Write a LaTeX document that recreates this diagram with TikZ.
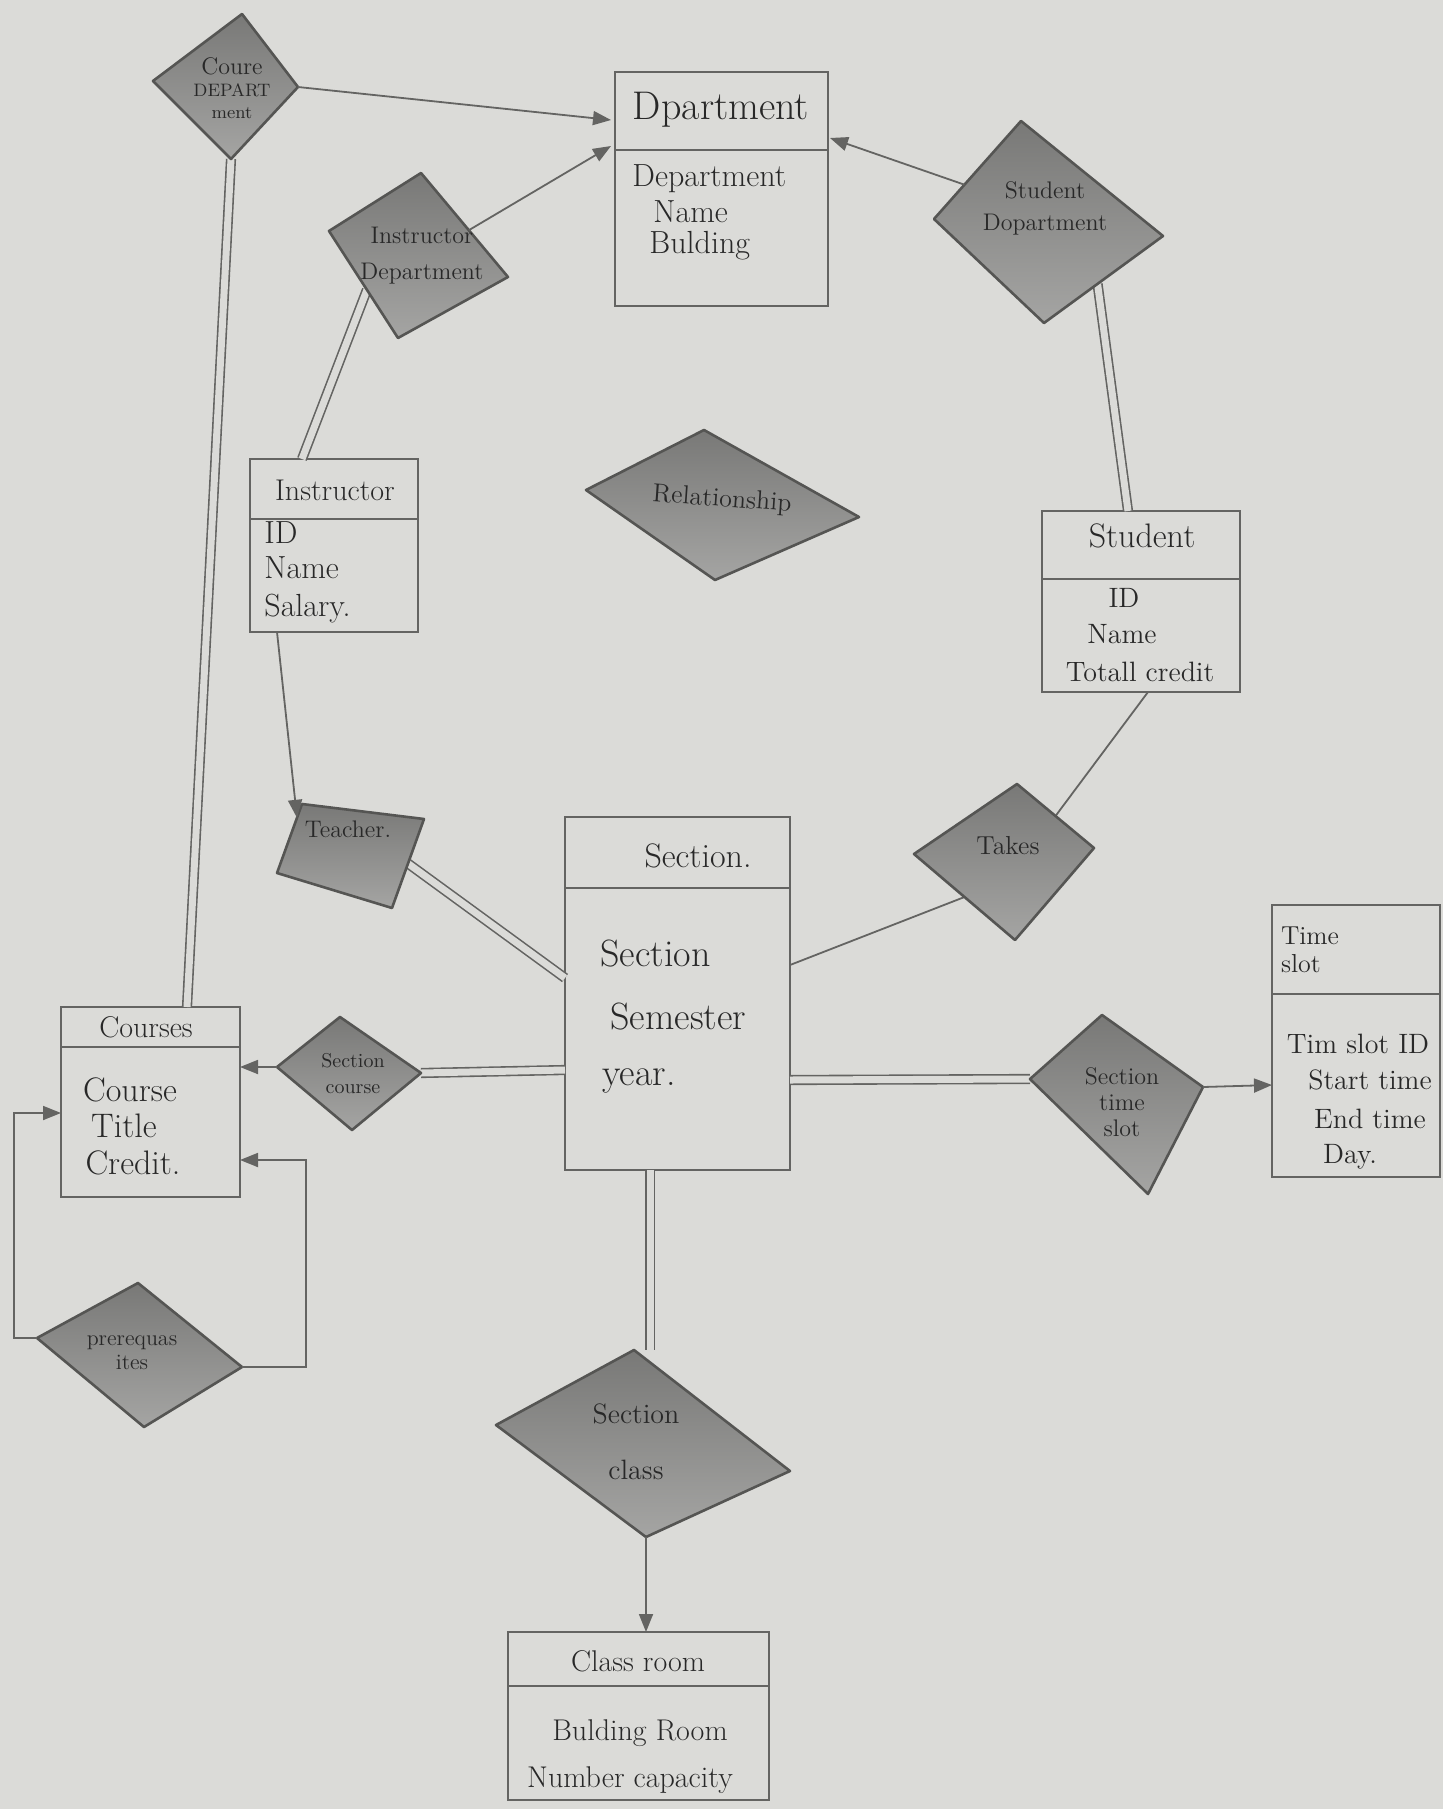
\documentclass[tikz,border=0pt]{standalone}
\usetikzlibrary{arrows.meta,calc}

\definecolor{paper}{RGB}{219,219,216}
\definecolor{pencil}{RGB}{100,100,98}
\definecolor{shade}{RGB}{142,142,140}
\definecolor{shadeedge}{RGB}{85,85,83}
\definecolor{ink}{RGB}{40,40,40}

\newcommand\fs[1]{\fontsize{#1}{#1}\selectfont}

\tikzset{
  entity/.style={draw=pencil, line width=1pt, inner sep=0pt},
  divider/.style={draw=pencil, line width=1pt},
  rel/.style={draw=shadeedge, line width=1.3pt, line join=round,
              top color=shade!85!black, bottom color=shade!80!white},
  link/.style={draw=pencil, line width=0.9pt},
  dlink/.style={draw=pencil, line width=0.8pt, double=paper, double distance=3.5pt},
  arr/.style={link, -{Triangle[length=9pt,width=7pt]}},
  lbl/.style={text=ink, inner sep=0pt, align=center},
  attr/.style={text=ink, inner sep=0pt, anchor=west},
}

\begin{document}
\begin{tikzpicture}[x=0.5pt,y=-0.5pt]
\fill[paper] (0,0) rectangle (1443,1809);

% ---------- entity boxes ----------
\node[entity, minimum width=106.5pt, minimum height=117pt] (Dep) at (721.5,189) {};
\node[entity, minimum width=84pt,   minimum height=86.5pt] (Ins) at (334,545.5) {};
\node[entity, minimum width=99pt,   minimum height=90.5pt] (Stu) at (1141,601.5) {};
\node[entity, minimum width=112.5pt,minimum height=176.5pt] (Sec) at (677.5,993.5) {};
\node[entity, minimum width=84pt,   minimum height=136pt]  (TS)  at (1356,1041) {};
\node[entity, minimum width=89.5pt, minimum height=95pt]   (Co)  at (150.5,1102) {};
\node[entity, minimum width=130.5pt,minimum height=84pt]   (CR)  at (638.5,1716) {};

\draw[divider] (Dep.west |- 0,150)  -- (Dep.east |- 0,150);
\draw[divider] (Ins.west |- 0,519)  -- (Ins.east |- 0,519);
\draw[divider] (Stu.west |- 0,579)  -- (Stu.east |- 0,579);
\draw[divider] (Sec.west |- 0,888)  -- (Sec.east |- 0,888);
\draw[divider] (TS.west  |- 0,994)  -- (TS.east  |- 0,994);
\draw[divider] (Co.west  |- 0,1047) -- (Co.east  |- 0,1047);
\draw[divider] (CR.west  |- 0,1686) -- (CR.east  |- 0,1686);

% box texts
\node[lbl, font=\fs{20}] (depT) at (721,110) {Dpartment};
\node[attr, font=\fs{16}] (depA1) at (632,179) {Department};
\node[attr, font=\fs{16}] (depA2) at (653,212) {Name};
\node[attr, font=\fs{16}] (depA3) at (649,246) {Bulding};

\node[lbl, font=\fs{15}] (insT) at (335,490) {Instructor};
\node[attr, font=\fs{16}] (insA1) at (264,533) {ID};
\node[attr, font=\fs{16}] (insA2) at (264,568) {Name};
\node[attr, font=\fs{16}] (insA3) at (264,609) {Salary.};

\node[lbl, font=\fs{17}] (stuT) at (1142,536) {Student};
\node[lbl, font=\fs{14}] (stuA1) at (1124,598) {ID};
\node[lbl, font=\fs{14}] (stuA2) at (1122,634) {Name};
\node[lbl, font=\fs{14}] (stuA3) at (1140,672) {Totall credit};

\node[lbl, font=\fs{17}] (secT) at (698,856) {Section.};
\node[attr, font=\fs{19}] (secA1) at (600,954) {Section};
\node[attr, font=\fs{19}] (secA2) at (610,1017) {Semester};
\node[attr, font=\fs{19}] (secA3) at (602,1081) {year.};

\node[lbl, font=\fs{13}, align=left] (tsT) at (1310,950) {Time\\[1pt]slot};
\node[lbl, font=\fs{14}] (tsA1) at (1358,1044) {Tim slot ID};
\node[lbl, font=\fs{14}] (tsA2) at (1370,1080) {Start time};
\node[lbl, font=\fs{14}] (tsA3) at (1370,1119) {End time};
\node[lbl, font=\fs{14}] (tsA4) at (1350,1157) {Day.};

\node[lbl, font=\fs{15}] (coT) at (146,1027) {Courses};
\node[lbl, font=\fs{17}] (coA1) at (130,1090) {Course};
\node[lbl, font=\fs{17}] (coA2) at (124,1126) {Title};
\node[lbl, font=\fs{17}] (coA3) at (133,1163) {Credit.};

\node[lbl, font=\fs{15}] (crT) at (638,1661) {Class room};
\node[lbl, font=\fs{15}] (crA1) at (640,1733) {Bulding Room};
\node[lbl, font=\fs{15}] (crA2) at (630,1780) {Number capacity};

% ---------- relationship corners ----------
\coordinate (cdT) at (242,14);   \coordinate (cdR) at (298,87);
\coordinate (cdB) at (231,159);  \coordinate (cdL) at (153,81);
\coordinate (idT) at (421,173);  \coordinate (idR) at (508,277);
\coordinate (idB) at (398,338);  \coordinate (idL) at (329,231);
\coordinate (sdT) at (1021,121); \coordinate (sdR) at (1163,236);
\coordinate (sdB) at (1044,323); \coordinate (sdL) at (934,219);
\coordinate (rlT) at (704,430);  \coordinate (rlR) at (859,517);
\coordinate (rlB) at (715,580);  \coordinate (rlL) at (586,490);
\coordinate (teT) at (302,804);  \coordinate (teR) at (424,819);
\coordinate (teB) at (392,908);  \coordinate (teL) at (277,873);
\coordinate (tkT) at (1017,784); \coordinate (tkR) at (1094,848);
\coordinate (tkB) at (1015,940); \coordinate (tkL) at (914,854);
\coordinate (stT) at (1102,1015);\coordinate (stR) at (1203,1087);
\coordinate (stB) at (1148,1194);\coordinate (stL) at (1030,1079);
\coordinate (scT) at (340,1017); \coordinate (scR) at (421,1073);
\coordinate (scB) at (352,1130); \coordinate (scL) at (277,1067);
\coordinate (prT) at (138,1283); \coordinate (prR) at (242,1367);
\coordinate (prB) at (144,1427); \coordinate (prL) at (37,1338);
\coordinate (clT) at (634,1350); \coordinate (clR) at (790,1471);
\coordinate (clB) at (646,1537); \coordinate (clL) at (496,1425);

% connector end points on the boxes
\coordinate (depW1) at (611,120);
\coordinate (depW2) at (611,146);
\coordinate (depE)  at (830,138);
\coordinate (coN)   at (187,1007);
\coordinate (insN)  at (302,459);
\coordinate (insS)  at (277,632);
\coordinate (stuN)  at (1128,511);
\coordinate (stuS)  at (1148,692);
\coordinate (secW1) at (565,978);
\coordinate (secE1) at (790,965);
\coordinate (secW2) at (565,1070);
\coordinate (secE2) at (790,1080);
\coordinate (secS)  at (650,1170);
\coordinate (coE1)  at (240,1067);
\coordinate (coE2)  at (240,1160);
\coordinate (coW)   at (61,1113);
\coordinate (tsW)   at (1272,1085);
\coordinate (crN)   at (646,1632);

% ---------- connectors under the diamonds ----------
\draw[dlink] (cdB) -- (coN);
\draw[dlink] ($(idL)!0.55!(idB)$) -- (insN);
\draw[dlink] ($(sdB)!0.45!(sdR)$) -- (stuN);
\draw[link]  (stuS) -- ($(tkT)!0.5!(tkR)$);
\draw[link]  ($(tkL)!0.5!(tkB)$) -- (secE1);
\draw[dlink] ($(teB)!0.5!(teR)$) -- (secW1);
\draw[dlink] (secW2) -- (scR);
\draw[dlink] (secE2) -- (stL);
\draw[dlink] (secS) -- (secS |- clT);

% ---------- relationship diamonds ----------
\filldraw[rel] (cdT) -- (cdR) -- (cdB) -- (cdL) -- cycle;
\filldraw[rel] (idT) -- (idR) -- (idB) -- (idL) -- cycle;
\filldraw[rel] (sdT) -- (sdR) -- (sdB) -- (sdL) -- cycle;
\filldraw[rel] (rlT) -- (rlR) -- (rlB) -- (rlL) -- cycle;
\filldraw[rel] (teT) -- (teR) -- (teB) -- (teL) -- cycle;
\filldraw[rel] (tkT) -- (tkR) -- (tkB) -- (tkL) -- cycle;
\filldraw[rel] (stT) -- (stR) -- (stB) -- (stL) -- cycle;
\filldraw[rel] (scT) -- (scR) -- (scB) -- (scL) -- cycle;
\filldraw[rel] (prT) -- (prR) -- (prB) -- (prL) -- cycle;
\filldraw[rel] (clT) -- (clR) -- (clB) -- (clL) -- cycle;

\node[lbl, font=\fs{12}] (cd) at (232,88)
  {Coure\\[-1pt]{\fs{9}DEPART}\\[-1pt]{\fs{9}ment}};
\node[lbl, font=\fs{12}] (id) at (422,256) {Instructor\\[6pt]Department};
\node[lbl, font=\fs{12}] (sd) at (1045,208) {Student\\[4pt]Dopartment};
\node[lbl, font=\fs{13}, rotate=-4] (rl) at (722,500) {Relationship};
\node[lbl, font=\fs{12}] (te) at (348,829) {Teacher.};
\node[lbl, font=\fs{13}] (tk) at (1008,846) {Takes};
\node[lbl, font=\fs{12}] (st) at (1122,1102) {Section\\[1pt]time\\[1pt]slot};
\node[lbl, font=\fs{10}] (sc) at (353,1074) {Section\\[3pt]course};
\node[lbl, font=\fs{11}] (pr) at (132,1353) {prerequas\\[1pt]ites};
\node[lbl, font=\fs{14}] (cl) at (636,1442) {Section\\[14pt]class};

% ---------- arrows ----------
\draw[arr] (cdR) -- (depW1);
\draw[arr] ($(idT)!0.55!(idR)$) -- (depW2);
\draw[arr] ($(sdL)!0.35!(sdT)$) -- (depE);
\draw[arr] (insS) -- ($(teT)!0.2!(teL)$);
\draw[arr] (scL) -- (coE1);
\draw[arr] (stR) -- (tsW);
\draw[arr] (clB) -- (crN);
\draw[arr] (prL) -- (prL -| 14,0) -- (14,1113) -- (coW);
\draw[arr] (prR) -- (prR -| 306,0) -- (306,1160) -- (coE2);

\end{tikzpicture}
\end{document}
